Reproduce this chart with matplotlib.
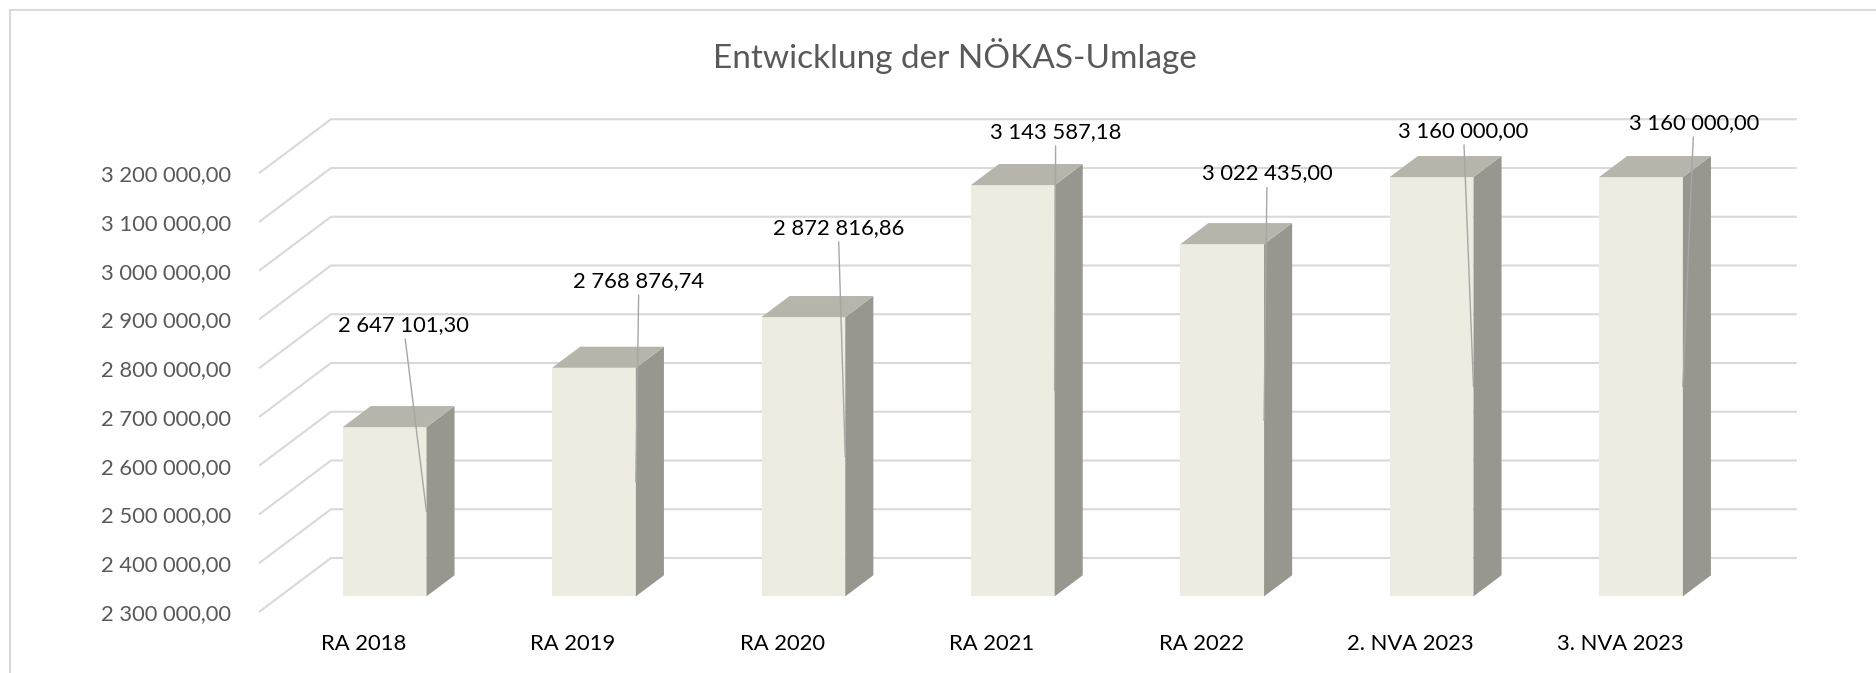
import matplotlib
matplotlib.use("Agg")
import matplotlib.pyplot as plt
from matplotlib.patches import Polygon
from matplotlib.lines import Line2D
import numpy as np

# ---------------- data ----------------
categories = ["RA 2018", "RA 2019", "RA 2020", "RA 2021", "RA 2022",
              "2. NVA 2023", "3. NVA 2023"]
values = [2647101.30, 2768876.74, 2872816.86, 3143587.18, 3022435.00,
          3160000.00, 3160000.00]
y_ticks = [2300000, 2400000, 2500000, 2600000, 2700000,
           2800000, 2900000, 3000000, 3100000, 3200000]
title = "Entwicklung der NÖKAS-Umlage"

# ---------------- style ----------------
plt.rcParams['font.family'] = ['Lato', 'DejaVu Sans']
W, H, DPI = 1876, 673, 100
PX_LEFT, PX_BASE = 259.0, 612.0        # front plane: left edge / floor (pixels)
PX_PER_CAT = 209.4                     # pixels per category
PX_PER_VAL = 48.75 / 100000.0          # pixels per value unit
DEPTH_PX = (72.0, 54.0)                # 3D depth vector (pixels)
D0, D1 = 0.29, 0.68                    # bar depth range (fraction of depth)
BAR_W = 0.40
FRONT, SIDE, TOP = "#EEECE1", "#979790", "#B7B4AB"
GRID = "#D9D9D9"
LEADER = "#A6A6A6"
TXT_GRAY = "#595959"
FS = 15.8
# manual data-label offsets (pixels, relative to leader anchor; y downward)
label_offsets_px = [(-23, -187), (3, -201), (-7, -229), (1, -259),
                    (3, -247), (-10, -256), (11, -264)]

def fmt(v):
    return f"{v:,.2f}".replace(",", " ").replace(".", ",")

n = len(categories)
vals = np.array(values)
ymin, ymax = y_ticks[0], y_ticks[-1]
DX = DEPTH_PX[0] / PX_PER_CAT
DY = DEPTH_PX[1] / PX_PER_VAL
xlim = (-0.5, n - 0.5 + DX)
ylim = (ymin, ymax + DY)

left = PX_LEFT
right = PX_LEFT + (xlim[1] - xlim[0]) * PX_PER_CAT
bottom = PX_BASE
top = PX_BASE - (ylim[1] - ylim[0]) * PX_PER_VAL

fig = plt.figure(figsize=(W / DPI, H / DPI), dpi=DPI)
fig.patch.set_facecolor("white")
ax = fig.add_axes([left / W, (H - bottom) / H, (right - left) / W, (bottom - top) / H])
ax.patch.set_visible(False)
for s in ax.spines.values():
    s.set_visible(False)

# back-wall gridlines with left diagonal
for t in y_ticks:
    ax.plot([xlim[0], xlim[0] + DX, n - 0.5 + DX], [t, t + DY, t + DY],
            color=GRID, lw=1.5, zorder=1, clip_on=False,
            solid_joinstyle="miter", solid_capstyle="butt")

# bars: front face
xs = np.arange(n) + D0 * DX
ax.bar(xs, vals - ymin, bottom=ymin + D0 * DY, width=BAR_W, color=FRONT,
       linewidth=0, zorder=3, clip_on=False)
dd = D1 - D0
for x, v in zip(xs, vals):
    xl, xr = x - BAR_W / 2, x + BAR_W / 2
    yb, yt = ymin + D0 * DY, v + D0 * DY
    side = Polygon([(xr, yb), (xr + dd * DX, yb + dd * DY),
                    (xr + dd * DX, yt + dd * DY), (xr, yt)],
                   closed=True, facecolor=SIDE, edgecolor="none", zorder=3,
                   clip_on=False)
    topf = Polygon([(xl, yt), (xr, yt), (xr + dd * DX, yt + dd * DY),
                    (xl + dd * DX, yt + dd * DY)],
                   closed=True, facecolor=TOP, edgecolor="none", zorder=3,
                   clip_on=False)
    ax.add_patch(side)
    ax.add_patch(topf)

# data labels with leader lines
for x, v, (ox, oy) in zip(xs, vals, label_offsets_px):
    anchor = (x + BAR_W / 2, ymin + D0 * DY + (v - ymin) / 2)
    ax.annotate(fmt(v), xy=anchor, xytext=(ox * 72 / DPI, -oy * 72 / DPI),
                textcoords="offset points", ha="center", va="center",
                fontsize=FS, color="black", zorder=5, annotation_clip=False,
                arrowprops=dict(arrowstyle="-", color=LEADER, lw=1.0,
                                shrinkA=1, shrinkB=0))

ax.set_xlim(*xlim)
ax.set_ylim(*ylim)
ax.set_xticks(range(n), categories)
ax.set_yticks(y_ticks, [fmt(t) for t in y_ticks])
ax.tick_params(axis="both", length=0)
ax.tick_params(axis="y", pad=20, labelsize=FS, labelcolor=TXT_GRAY)
ax.tick_params(axis="x", pad=15.5, labelsize=FS, labelcolor="black")

# title
tt = fig.text(955 / W, 1 - 56 / H, title, ha="center", va="center",
              fontsize=22, color=TXT_GRAY)
r = fig.canvas.get_renderer()
wpx = tt.get_window_extent(renderer=r).width
tt.set_fontsize(22 * 483 / wpx)

# chart border (left and top visible)
fig.add_artist(Line2D([10 / W, 10 / W], [0, 1 - 10 / H], transform=fig.transFigure,
                      color=GRID, lw=1.5))
fig.add_artist(Line2D([10 / W, 1], [1 - 10 / H, 1 - 10 / H], transform=fig.transFigure,
                      color=GRID, lw=1.5))

fig.savefig("out.png", dpi=DPI, facecolor="white")
